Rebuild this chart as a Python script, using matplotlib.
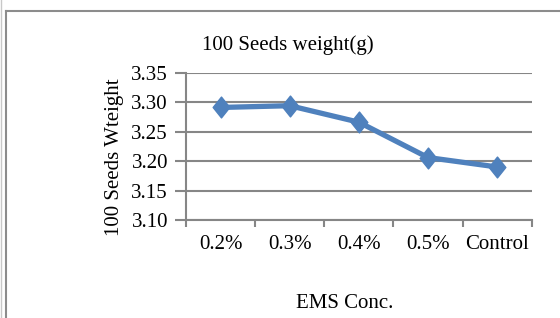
import matplotlib
matplotlib.use("Agg")
import matplotlib.pyplot as plt
from matplotlib.lines import Line2D
from matplotlib.path import Path

categories = ["0.2%", "0.3%", "0.4%", "0.5%", "Control"]
weights = [3.291, 3.294, 3.266, 3.206, 3.190]
yticks = [3.10, 3.15, 3.20, 3.25, 3.30, 3.35]

plt.rcParams["font.family"] = ["Liberation Serif", "DejaVu Serif"]
GRID = "#868686"
BLUE = "#4F81BD"
FS = 15

# slightly tall diamond like the Excel marker
diamond = Path([(0, 1), (0.8, 0), (0, -1), (-0.8, 0), (0, 1)],
               [Path.MOVETO, Path.LINETO, Path.LINETO, Path.LINETO, Path.CLOSEPOLY])

W, H = 560, 318
fig = plt.figure(figsize=(W / 100, H / 100), dpi=100)
ax = fig.add_axes([186 / W, 1 - 220 / H, (531.7 - 186) / W, (220 - 72.7) / H])

x = list(range(len(categories)))
ax.plot(x, weights, color=BLUE, lw=3.8, marker=diamond, ms=15, mfc=BLUE, mec=BLUE, zorder=3)

ax.set_xlim(-0.5, len(categories) - 0.5)
ax.set_ylim(yticks[0], yticks[-1])
ax.set_yticks(yticks)
ax.set_yticklabels([f"{v:.2f}" for v in yticks], fontsize=FS)
ax.set_xticks(x)
ax.set_xticklabels(categories, fontsize=FS)
ax.set_xticks([i - 0.5 for i in range(len(categories) + 1)], minor=True)
ax.tick_params(axis="x", which="major", length=0, pad=11)
ax.tick_params(axis="x", which="minor", length=5, width=1.5, color=GRID, direction="out")
ax.tick_params(axis="y", length=8, width=1.5, color=GRID, pad=5)
ax.yaxis.grid(True, color=GRID, lw=1.5)
ax.set_axisbelow(True)
for s in ["top", "right"]:
    ax.spines[s].set_visible(False)
for s in ["left", "bottom"]:
    ax.spines[s].set_color(GRID)
    ax.spines[s].set_linewidth(1.5)

fig.text(287.5 / W, 1 - 45 / H, "100 Seeds weight(g)", ha="center", va="center", fontsize=FS)
fig.text(115 / W, 1 - 157 / H, "100 Seeds Wteight", ha="center", va="center",
         rotation=90, fontsize=FS)
fig.text(345 / W, 1 - 303 / H, "EMS Conc.", ha="center", va="center", fontsize=FS)

# outer chart frame (left and top edges visible)
fig.add_artist(Line2D([1 / W, 1 / W], [0, 1], color="#c8c8c8", lw=1))
fig.add_artist(Line2D([5.5 / W, 5.5 / W], [0, 1 - 11 / H], color="#8c8c8c", lw=1.5))
fig.add_artist(Line2D([5.5 / W, 1], [1 - 11 / H, 1 - 11 / H], color="#8c8c8c", lw=1.5))

fig.savefig("out.png", dpi=100)
